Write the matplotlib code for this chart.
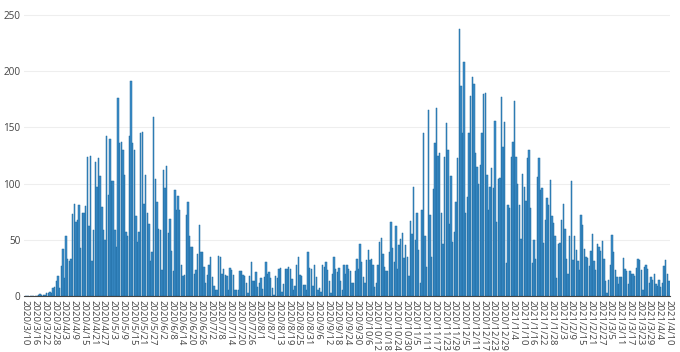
import pandas as pd
import matplotlib
matplotlib.use("Agg")
import matplotlib.pyplot as plt

# daily counts, 2020/3/10 .. 2021/4/10
start_date = "2020-03-10"
counts = [
    0, 0, 0, 0, 0, 0, 0, 0, 1, 2, 1, 1, 1, 3, 3, 4, 3,
    # april - may
    7, 8, 13, 18, 7, 27, 42, 16, 53, 33,
    31, 33, 73, 82, 66, 68, 81, 43, 74, 74,
    80, 124, 62, 125, 31, 59, 119, 97, 123, 107,
    79, 59, 50, 142, 90, 140, 102, 102, 59, 44,
    176, 136, 137, 130, 108, 57, 53, 142, 191, 136,
    130, 71, 48, 57, 145, 146, 82, 108, 74, 64,
    31, 39, 159, 104, 84, 60, 59, 23, 112, 96,
    116, 56, 69, 40, 22, 94, 77, 89, 77,
    # summer
    28, 18, 19, 72, 84, 53, 44, 44, 20, 23,
    37, 63, 39, 39, 26, 12, 19, 28, 35, 17,
    9, 5, 5, 36, 35, 20, 24, 19, 18, 5,
    25, 23, 19, 5, 5, 5, 22, 22, 19, 18,
    12, 3, 18, 30, 13, 13, 21, 8, 12, 16,
    6, 17, 30, 20, 21, 16, 7, 1, 18, 16,
    24, 25, 4, 11, 24, 24, 26, 24, 15, 5,
    9, 28, 35, 19, 18, 10, 10, 5, 39, 25,
    24, 9, 28, 17, 5, 7, 4, 28, 26, 30,
    23, 13, 3, 20, 35, 24, 21, 25, 13, 5,
    28, 20, 28, 24, 22,
    # autumn
    12, 12, 22, 33, 24, 46, 30, 17, 12, 32,
    41, 32, 33, 28, 8, 12, 28, 48, 52, 37,
    26, 22, 22, 39, 66, 43, 30, 62, 24, 45,
    51, 56, 34, 45, 35, 18, 67, 55, 97, 50,
    74, 41, 12, 77, 145, 53, 26, 166, 72, 35,
    95, 136, 167, 125, 127, 74, 46, 124, 154, 130,
    64, 107,
    # winter
    48, 57, 84, 123, 238, 187, 145, 208, 74, 88,
    145, 178, 195, 189, 127, 115, 100, 117, 145, 180,
    181, 108, 77, 97, 114, 96, 156, 66, 104, 105,
    177, 133, 155, 29, 81, 78, 124, 137, 174, 124,
    100, 81, 51, 109, 97, 85, 123, 130, 78, 29,
    50, 33, 106, 123, 94, 96, 47, 68, 87, 81,
    103, 71, 65, 53, 16, 46,
    # 2021 feb - apr
    47, 68, 82, 60, 33, 20, 53, 102, 32, 53,
    41, 31, 23, 72, 63, 42, 35, 34, 27, 40,
    55, 31, 23, 46, 44, 40, 49, 33, 13, 3,
    14, 28, 54, 39, 23, 17, 11, 17, 17, 34,
    24, 22, 11, 22, 20, 20, 18, 25, 33, 32,
    23, 5, 26, 28, 24, 12, 17, 14, 20, 11,
    9, 14, 8, 12, 27, 32, 20, 13,
]
y_ticks = [0, 50, 100, 150, 200, 250]

dates = pd.date_range(start_date, periods=len(counts), freq="D")
labels = [f"{d.year}/{d.month}/{d.day}" for d in dates]
x = list(range(len(counts)))

fig = plt.figure(figsize=(6.8, 3.52), dpi=100)
ax = fig.add_axes([0.036, 0.159, 0.949, 0.814])

ax.bar(x, counts, width=0.85, color="#3b8dc8", edgecolor="#1f6aa0", linewidth=0.35)

ax.set_xlim(-0.6, len(counts) - 0.4)
ax.set_ylim(0, 255)
ax.set_yticks(y_ticks)
ax.set_yticklabels([str(v) for v in y_ticks], fontsize=7.2, color="#444444", family="Open Sans")
ax.set_xticks(x[::6])
ax.set_xticklabels(labels[::6], rotation=-90, fontsize=6.8, color="#444444",
                   family="Open Sans", va="top", ha="center")

ax.grid(axis="y", color="#eeeeee", linewidth=0.8)
ax.set_axisbelow(True)
for s in ["top", "right", "left"]:
    ax.spines[s].set_visible(False)
ax.spines["bottom"].set_color("#444444")
ax.spines["bottom"].set_linewidth(0.8)
ax.tick_params(axis="y", length=0, pad=3)
ax.tick_params(axis="x", length=0, pad=2.5)

fig.savefig("out.png", dpi=100)
